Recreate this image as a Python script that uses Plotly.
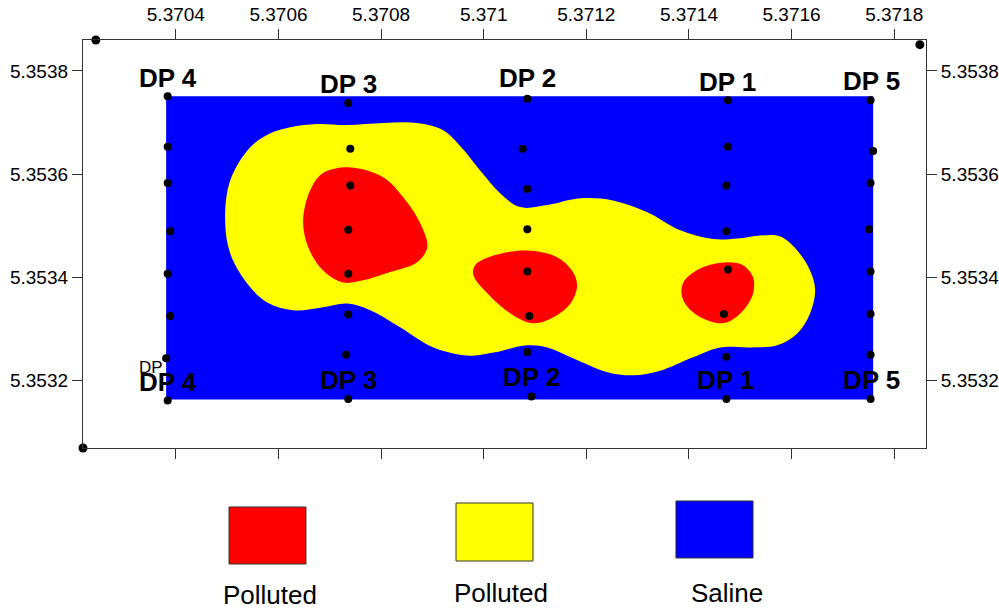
import plotly.graph_objects as go

# ---------------- data (longitude / latitude, decimal degrees) ----------------
x_tick_labels = ["5.3704", "5.3706", "5.3708", "5.371", "5.3712", "5.3714", "5.3716", "5.3718"]
y_tick_labels = ["5.3532", "5.3534", "5.3536", "5.3538"]

survey_lon = [5.370381, 5.371759, 5.371759, 5.370381, 5.370381]
survey_lat = [5.353751, 5.353751, 5.353163, 5.353163, 5.353751]

moderate_lon = [5.370496, 5.370506, 5.370545, 5.370584, 5.370623, 5.370675, 5.370734, 5.370804,
                5.370870, 5.370921, 5.370958, 5.370993, 5.371032, 5.371071, 5.371124, 5.371188,
                5.371252, 5.371319, 5.371383, 5.371447, 5.371494, 5.371539, 5.371578, 5.371611,
                5.371636, 5.371646, 5.371636, 5.371611, 5.371572, 5.371519, 5.371461, 5.371408,
                5.371344, 5.371291, 5.371241, 5.371174, 5.371124, 5.371085, 5.371019, 5.370974,
                5.370902, 5.370837, 5.370779, 5.370734, 5.370687, 5.370629, 5.370578, 5.370539,
                5.370506, 5.370496]
moderate_lat = [5.353510, 5.353588, 5.353652, 5.353679, 5.353691, 5.353697, 5.353695, 5.353699,
                5.353699, 5.353685, 5.353650, 5.353607, 5.353563, 5.353536, 5.353540, 5.353553,
                5.353549, 5.353526, 5.353491, 5.353474, 5.353475, 5.353481, 5.353479, 5.353452,
                5.353413, 5.353375, 5.353330, 5.353291, 5.353268, 5.353264, 5.353264, 5.353245,
                5.353219, 5.353210, 5.353216, 5.353243, 5.353264, 5.353268, 5.353254, 5.353248,
                5.353264, 5.353303, 5.353336, 5.353349, 5.353342, 5.353336, 5.353351, 5.353388,
                5.353446, 5.353510]

high_a_lon = [5.370740, 5.370804, 5.370843, 5.370876, 5.370890, 5.370870, 5.370818, 5.370765,
              5.370726, 5.370687, 5.370658, 5.370648, 5.370662, 5.370687, 5.370740]
high_a_lat = [5.353613, 5.353594, 5.353555, 5.353505, 5.353458, 5.353429, 5.353410, 5.353394,
              5.353390, 5.353413, 5.353458, 5.353510, 5.353569, 5.353602, 5.353613]

high_b_lon = [5.371085, 5.371143, 5.371172, 5.371182, 5.371169, 5.371135, 5.371096, 5.371052,
              5.371007, 5.370980, 5.370983, 5.371019, 5.371085]
high_b_lat = [5.353452, 5.353439, 5.353413, 5.353384, 5.353349, 5.353322, 5.353311, 5.353330,
              5.353369, 5.353404, 5.353423, 5.353442, 5.353452]

high_c_lon = [5.371475, 5.371506, 5.371525, 5.371525, 5.371506, 5.371475, 5.371447, 5.371408,
              5.371387, 5.371389, 5.371422, 5.371475]
high_c_lat = [5.353429, 5.353423, 5.353400, 5.353369, 5.353336, 5.353313, 5.353313, 5.353332,
              5.353361, 5.353390, 5.353417, 5.353429]

dp4_lon = [5.370384, 5.370384, 5.370384, 5.370389, 5.370384, 5.370389, 5.370381, 5.370384]
dp4_lat = [5.353751, 5.353653, 5.353583, 5.353489, 5.353407, 5.353325, 5.353243, 5.353161]
dp3_lon = [5.370736, 5.370740, 5.370740, 5.370736, 5.370736, 5.370736, 5.370732, 5.370736]
dp3_lat = [5.353738, 5.353649, 5.353578, 5.353492, 5.353407, 5.353328, 5.353250, 5.353164]
dp2_lon = [5.371085, 5.371076, 5.371085, 5.371085, 5.371085, 5.371089, 5.371085, 5.371093]
dp2_lat = [5.353746, 5.353649, 5.353571, 5.353493, 5.353411, 5.353325, 5.353255, 5.353169]
dp1_lon = [5.371476, 5.371476, 5.371473, 5.371473, 5.371476, 5.371468, 5.371473, 5.371473]
dp1_lat = [5.353743, 5.353653, 5.353578, 5.353489, 5.353415, 5.353329, 5.353246, 5.353164]
dp5_lon = [5.371754, 5.371759, 5.371754, 5.371751, 5.371754, 5.371754, 5.371754, 5.371754]
dp5_lat = [5.353743, 5.353645, 5.353583, 5.353493, 5.353411, 5.353329, 5.353250, 5.353164]

corner_lon = [5.370244, 5.371850, 5.370219, 5.371864]
corner_lat = [5.353860, 5.353851, 5.353069, 5.353069]

profile_names = ["DP 4", "DP 3", "DP 2", "DP 1", "DP 5"]
top_label_lon = [5.370384, 5.370737, 5.371085, 5.371475, 5.371755]
top_label_lat = [5.353786, 5.353775, 5.353786, 5.353778, 5.353780]
bottom_label_lon = [5.370384, 5.370737, 5.371093, 5.371471, 5.371755]
bottom_label_lat = [5.353196, 5.353200, 5.353206, 5.353200, 5.353200]

legend_labels = ["Polluted", "Polluted", "Saline"]
legend_colors = ["#FF0000", "#FFFF00", "#0000FF"]

x_range = [5.370219, 5.371862]
y_range = [5.353069, 5.353860]

# ---------------- figure ----------------
FONT = "Liberation Sans, Arial, sans-serif"
fig = go.Figure()

fig.add_trace(go.Scatter(x=survey_lon, y=survey_lat, mode="lines", fill="toself",
                         fillcolor="#0000FF", line=dict(color="#0000FF", width=0),
                         hoverinfo="skip", showlegend=False))
fig.add_trace(go.Scatter(x=moderate_lon, y=moderate_lat, mode="lines", fill="toself",
                         fillcolor="#FFFF00", line=dict(color="#FFFF00", width=0, shape="spline", smoothing=1),
                         hoverinfo="skip", showlegend=False))
for lo, la in [(high_a_lon, high_a_lat), (high_b_lon, high_b_lat), (high_c_lon, high_c_lat)]:
    fig.add_trace(go.Scatter(x=lo, y=la, mode="lines", fill="toself",
                             fillcolor="#FF0000", line=dict(color="#FF0000", width=0, shape="spline", smoothing=1),
                             hoverinfo="skip", showlegend=False))

pts_lon = dp4_lon + dp3_lon + dp2_lon + dp1_lon + dp5_lon
pts_lat = dp4_lat + dp3_lat + dp2_lat + dp1_lat + dp5_lat
fig.add_trace(go.Scatter(x=pts_lon, y=pts_lat, mode="markers",
                         marker=dict(color="black", size=8), showlegend=False, cliponaxis=False))
fig.add_trace(go.Scatter(x=corner_lon, y=corner_lat, mode="markers",
                         marker=dict(color="black", size=9), showlegend=False, cliponaxis=False))
# invisible trace to activate right-hand axis
fig.add_trace(go.Scatter(x=[corner_lon[0]], y=[corner_lat[0]], yaxis="y2", mode="markers",
                         marker=dict(opacity=0), showlegend=False, hoverinfo="skip"))

for name, lo, la in zip(profile_names, top_label_lon, top_label_lat):
    fig.add_annotation(x=lo, y=la, text=f"<b>{name}</b>", showarrow=False,
                       font=dict(family=FONT, size=26, color="black"), xanchor="center", yanchor="middle")
for name, lo, la in zip(profile_names, bottom_label_lon, bottom_label_lat):
    fig.add_annotation(x=lo, y=la, text=f"<b>{name}</b>", showarrow=False,
                       font=dict(family=FONT, size=26, color="black"), xanchor="center", yanchor="middle")
fig.add_annotation(x=5.370351, y=5.353225, text="DP", showarrow=False,
                   font=dict(family=FONT, size=17, color="black"), xanchor="center", yanchor="middle")

# legend boxes (below the map)
box_x = [(0.1732, 0.2645), (0.4425, 0.5338), (0.7034, 0.7948)]
box_y = [(-0.2843, -0.1446), (-0.2770, -0.1348), (-0.2696, -0.1299)]
lab_pos = [(0.2224, -0.3600), (0.4958, -0.3560), (0.7645, -0.3560)]
for (bx, by, (lx, ly), lab, col) in zip(box_x, box_y, lab_pos, legend_labels, legend_colors):
    fig.add_shape(type="rect", xref="paper", yref="paper", x0=bx[0], x1=bx[1], y0=by[0], y1=by[1],
                  fillcolor=col, line=dict(color="#333333", width=1))
    fig.add_annotation(xref="paper", yref="paper", x=lx, y=ly, text=lab, showarrow=False,
                       font=dict(family=FONT, size=26, color="black"), xanchor="center", yanchor="middle")

xt = [float(t) for t in x_tick_labels]
yt = [float(t) for t in y_tick_labels]
axis_font = dict(family=FONT, size=19, color="black")
fig.update_layout(
    width=999, height=611, margin=dict(l=83, r=73, t=40, b=163, autoexpand=False),
    paper_bgcolor="white", plot_bgcolor="white", showlegend=False,
    xaxis=dict(range=x_range, side="top", tickvals=xt, ticktext=x_tick_labels, ticks="outside",
               ticklen=10, tickcolor="#333333", showline=True, linecolor="#333333", linewidth=1.3,
               mirror="allticks", showgrid=False, zeroline=False, tickfont=axis_font, automargin=False),
    yaxis=dict(range=y_range, side="left", tickvals=yt, ticktext=y_tick_labels, ticks="outside",
               ticklen=10, tickcolor="#333333", showline=True, linecolor="#333333", linewidth=1.3,
               mirror="allticks", showgrid=False, zeroline=False, tickfont=axis_font, automargin=False),
    yaxis2=dict(range=y_range, overlaying="y", side="right", tickvals=yt, ticktext=y_tick_labels,
                ticks="outside", ticklen=10, tickcolor="rgba(0,0,0,0)", showline=False,
                showgrid=False, zeroline=False, tickfont=axis_font, automargin=False),
)

fig.write_html("out.html")
